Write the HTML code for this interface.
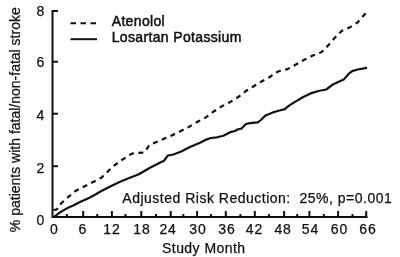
<!DOCTYPE html>
<html><head><meta charset="utf-8"><style>
html,body{margin:0;padding:0;background:#fff;}
svg{display:block;filter:grayscale(100%) blur(0.35px);}
text{font-family:"Liberation Sans",sans-serif;font-size:14px;fill:#111;stroke:#111;stroke-width:0.25px;}
.ls{letter-spacing:0.45px;}
.lg{letter-spacing:0.35px;stroke-width:0.5px;}
.dl{letter-spacing:0.8px;}
.ann{font-size:14px;letter-spacing:0.5px;}
</style></head><body>
<svg width="400" height="257" viewBox="0 0 400 257">
<rect width="400" height="257" fill="#fff"/>
<g stroke="#111" stroke-width="2" fill="none">
<path d="M52.5,10 L52.5,217 L367.5,217"/>
<line x1="52.5" y1="166.2" x2="58" y2="166.2"/><line x1="52.5" y1="113.7" x2="58" y2="113.7"/><line x1="52.5" y1="61.7" x2="58" y2="61.7"/><line x1="52.5" y1="11.0" x2="58" y2="11.0"/><line x1="66.9" y1="217" x2="66.9" y2="214"/><line x1="83.2" y1="217" x2="83.2" y2="211"/><line x1="97.2" y1="217" x2="97.2" y2="214"/><line x1="111.9" y1="217" x2="111.9" y2="211"/><line x1="125.4" y1="217" x2="125.4" y2="214"/><line x1="141.3" y1="217" x2="141.3" y2="211"/><line x1="156.0" y1="217" x2="156.0" y2="214"/><line x1="170.7" y1="217" x2="170.7" y2="211"/><line x1="183.3" y1="217" x2="183.3" y2="214"/><line x1="197.1" y1="217" x2="197.1" y2="211"/><line x1="210.9" y1="217" x2="210.9" y2="214"/><line x1="225.8" y1="217" x2="225.8" y2="211"/><line x1="240.4" y1="217" x2="240.4" y2="214"/><line x1="254.8" y1="217" x2="254.8" y2="211"/><line x1="268.9" y1="217" x2="268.9" y2="214"/><line x1="284.1" y1="217" x2="284.1" y2="211"/><line x1="297.2" y1="217" x2="297.2" y2="214"/><line x1="309.4" y1="217" x2="309.4" y2="211"/><line x1="323.8" y1="217" x2="323.8" y2="214"/><line x1="338.1" y1="217" x2="338.1" y2="211"/><line x1="352.5" y1="217" x2="352.5" y2="214"/><line x1="366.2" y1="217" x2="366.2" y2="211"/>
</g>
<path d="M54.0,217.0 L56.0,215.5 L59.5,212.7 L64.6,209.6 L68.0,207.8 L73.3,205.5 L80.0,202.0 L88.9,197.9 L95.0,194.8 L100.0,191.7 L109.7,186.8 L119.5,182.0 L129.2,178.1 L138.9,174.2 L150.0,167.7 L157.8,163.8 L164.0,160.7 L166.0,158.0 L167.9,155.5 L173.4,154.5 L181.2,151.4 L190.5,146.7 L200.0,142.7 L206.2,139.6 L210.9,138.0 L217.1,137.3 L223.4,135.7 L231.2,131.8 L235.0,131.0 L237.4,129.5 L241.3,128.7 L246.0,124.0 L250.0,123.1 L257.8,122.4 L260.9,120.0 L265.6,115.4 L273.4,112.3 L281.2,110.0 L285.0,109.1 L287.4,106.8 L292.0,103.7 L295.0,101.9 L302.8,97.3 L310.6,93.4 L318.4,91.0 L326.2,89.5 L332.4,84.8 L337.1,82.5 L343.7,79.6 L348.3,74.2 L352.2,71.1 L357.7,69.5 L362.4,68.7 L367.0,67.6" stroke="#111" stroke-width="2.2" fill="none" stroke-linejoin="round"/>
<path d="M53.5,210.3 L57.0,209.3 L59.7,204.9 L62.4,202.2 L68.7,196.7 L75.0,191.3 L83.1,187.0 L92.0,182.5 L101.4,177.7 L109.1,170.3 L114.3,165.5 L121.8,160.0 L129.9,154.8 L134.0,153.0 L144.5,152.5 L149.0,145.5 L154.7,142.8 L163.3,139.1 L176.8,133.1 L186.4,128.1 L188.9,126.9 L197.5,121.8 L205.6,117.6 L213.3,111.7 L221.1,106.7 L230.2,102.0 L238.6,96.8 L245.9,91.0 L253.7,86.3 L261.1,81.7 L269.7,77.0 L278.1,71.5 L287.5,69.1 L296.0,64.5 L304.3,59.8 L312.7,55.6 L321.7,52.0 L328.5,45.0 L335.1,37.5 L341.9,30.7 L349.7,27.4 L357.5,22.5 L364.3,14.7 L367.0,12.5" stroke="#111" stroke-width="2.2" fill="none" stroke-dasharray="5,4.5" stroke-linejoin="round"/>
<g stroke="#111" stroke-width="2">
<line x1="70.5" y1="23.2" x2="97" y2="23.2" stroke-dasharray="5.5,4.5"/>
<line x1="70.5" y1="39.2" x2="97" y2="39.2"/>
</g>
<text x="40.5" y="224.7" text-anchor="middle">0</text><text x="40.5" y="172.7" text-anchor="middle">2</text><text x="40.5" y="120.2" text-anchor="middle">4</text><text x="40.5" y="66.7" text-anchor="middle">6</text><text x="40.5" y="15.7" text-anchor="middle">8</text>
<text class="dl" x="54.4" y="233.5" text-anchor="middle">0</text><text class="dl" x="82.9" y="233.5" text-anchor="middle">6</text><text class="dl" x="111.9" y="233.5" text-anchor="middle">12</text><text class="dl" x="141.9" y="233.5" text-anchor="middle">18</text><text class="dl" x="168.1" y="233.5" text-anchor="middle">24</text><text class="dl" x="197.9" y="233.5" text-anchor="middle">30</text><text class="dl" x="226.9" y="233.5" text-anchor="middle">36</text><text class="dl" x="254.4" y="233.5" text-anchor="middle">42</text><text class="dl" x="283.1" y="233.5" text-anchor="middle">48</text><text class="dl" x="310.4" y="233.5" text-anchor="middle">54</text><text class="dl" x="339.4" y="233.5" text-anchor="middle">60</text><text class="dl" x="367.9" y="233.5" text-anchor="middle">66</text>
<text class="lg" x="111.7" y="25.7">Atenolol</text>
<text class="lg" x="111.7" y="42.2">Losartan Potassium</text>
<text class="ann" x="122.3" y="203.4">Adjusted Risk Reduction:&#160; 25%, p=0.001</text>
<text class="ls" x="162" y="252.5">Study Month</text>
<text transform="translate(20,119.7) rotate(-90)" text-anchor="middle">% patients with fatal/non-fatal stroke</text>
</svg>
</body></html>
